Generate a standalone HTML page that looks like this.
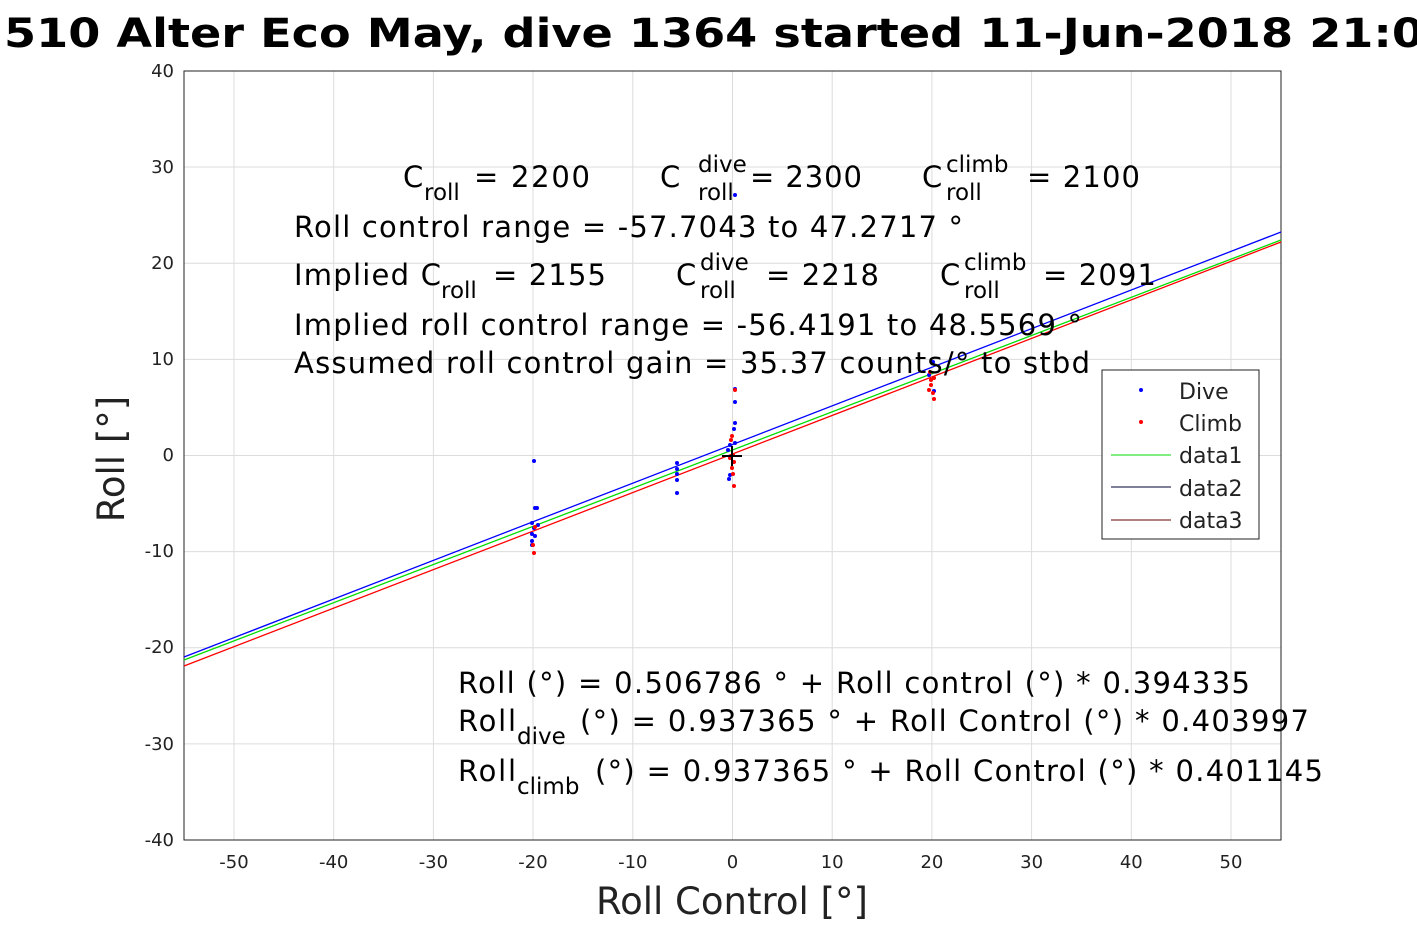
<!DOCTYPE html><html><head><meta charset="utf-8"><style>body{margin:0;background:#fff}svg{display:block}text{font-family:"DejaVu Sans","Liberation Sans",sans-serif}</style></head><body>
<svg width="1417" height="945" viewBox="0 0 1417 945" xmlns="http://www.w3.org/2000/svg">
<rect width="1417" height="945" fill="#fff"/>
<text x="4" y="47" font-size="40" font-weight="bold" fill="#000" textLength="1420" lengthAdjust="spacingAndGlyphs">510 Alter Eco May, dive 1364 started 11-Jun-2018 21:0</text>
<g stroke="#dcdcdc" stroke-width="1">
<line x1="234" y1="71" x2="234" y2="840"/><line x1="333.7" y1="71" x2="333.7" y2="840"/><line x1="433.4" y1="71" x2="433.4" y2="840"/><line x1="533" y1="71" x2="533" y2="840"/><line x1="632.8" y1="71" x2="632.8" y2="840"/><line x1="732.5" y1="71" x2="732.5" y2="840"/><line x1="832.2" y1="71" x2="832.2" y2="840"/><line x1="931.9" y1="71" x2="931.9" y2="840"/><line x1="1031.6" y1="71" x2="1031.6" y2="840"/><line x1="1131.3" y1="71" x2="1131.3" y2="840"/><line x1="1231" y1="71" x2="1231" y2="840"/>
<line x1="184" y1="167" x2="1281" y2="167"/><line x1="184" y1="263.3" x2="1281" y2="263.3"/><line x1="184" y1="359.4" x2="1281" y2="359.4"/><line x1="184" y1="455.5" x2="1281" y2="455.5"/><line x1="184" y1="551.6" x2="1281" y2="551.6"/><line x1="184" y1="647.7" x2="1281" y2="647.7"/><line x1="184" y1="743.9" x2="1281" y2="743.9"/>
</g>
<rect x="184" y="71" width="1097" height="769" fill="none" stroke="#222" stroke-width="1"/>
<g font-size="18" fill="#222" text-anchor="end">
<text x="174" y="77">40</text><text x="174" y="173">30</text><text x="174" y="269">20</text><text x="174" y="365">10</text><text x="174" y="461">0</text><text x="174" y="557">-10</text><text x="174" y="653">-20</text><text x="174" y="750">-30</text><text x="174" y="846">-40</text>
</g>
<g font-size="18" fill="#222" text-anchor="middle">
<text x="234" y="868">-50</text><text x="333.7" y="868">-40</text><text x="433.4" y="868">-30</text><text x="533" y="868">-20</text><text x="632.8" y="868">-10</text><text x="732.5" y="868">0</text><text x="832.2" y="868">10</text><text x="931.9" y="868">20</text><text x="1031.6" y="868">30</text><text x="1131.3" y="868">40</text><text x="1231" y="868">50</text>
</g>
<text x="732" y="914" font-size="37" text-anchor="middle" fill="#222">Roll Control [°]</text>
<text transform="translate(124,459) rotate(-90)" font-size="37" text-anchor="middle" fill="#222">Roll [°]</text>
<line x1="184" y1="657" x2="1281" y2="232" stroke="#0000ff" stroke-width="1.3"/>
<line x1="184" y1="660" x2="1281" y2="240" stroke="#00dd00" stroke-width="1.3"/>
<line x1="184" y1="666" x2="1281" y2="242" stroke="#ff0000" stroke-width="1.3"/>
<g fill="#0000ff">
<circle cx="534" cy="461" r="2"/><circle cx="535" cy="508" r="2"/><circle cx="537" cy="508" r="2"/><circle cx="532" cy="523" r="2"/><circle cx="534" cy="528" r="2"/><circle cx="532" cy="534" r="2"/><circle cx="535" cy="536" r="2"/><circle cx="532" cy="541" r="2"/><circle cx="532" cy="545" r="2"/><circle cx="538" cy="525" r="2"/>
<circle cx="677" cy="463" r="2"/><circle cx="677" cy="469" r="2"/><circle cx="677" cy="474" r="2"/><circle cx="677" cy="480" r="2"/><circle cx="677" cy="493" r="2"/>
<circle cx="735" cy="195" r="2"/><circle cx="735" cy="389" r="2"/><circle cx="735" cy="402" r="2"/><circle cx="735" cy="423" r="2"/><circle cx="734" cy="429" r="2"/><circle cx="730" cy="445" r="2"/><circle cx="735" cy="443" r="2"/><circle cx="728" cy="450" r="2"/><circle cx="733" cy="462" r="2"/><circle cx="729" cy="479" r="2"/><circle cx="730" cy="475" r="2"/>
<circle cx="933" cy="362" r="2"/><circle cx="929" cy="375" r="2"/><circle cx="934" cy="391" r="2"/>
</g>
<g fill="#ff0000">
<circle cx="735" cy="390" r="2"/><circle cx="732" cy="436" r="2"/><circle cx="731" cy="440" r="2"/><circle cx="733" cy="455" r="2"/><circle cx="734" cy="462" r="2"/><circle cx="732" cy="468" r="2"/><circle cx="733" cy="474" r="2"/><circle cx="734" cy="486" r="2"/><circle cx="730" cy="458" r="2"/>
<circle cx="535" cy="527" r="2"/><circle cx="533" cy="545" r="2"/><circle cx="534" cy="553" r="2"/>
<circle cx="930" cy="372" r="2"/><circle cx="934" cy="378" r="2"/><circle cx="931" cy="385" r="2"/><circle cx="929" cy="390" r="2"/><circle cx="933" cy="393" r="2"/><circle cx="934" cy="399" r="2"/><circle cx="931" cy="380" r="2"/>
</g>
<path d="M722 456 H742 M732 446 V466" stroke="#000" stroke-width="2"/>
<g font-size="29" fill="#000">
<text x="403" y="187">C</text><text x="424" y="200" font-size="23">roll</text><text x="474" y="187" textLength="116">= 2200</text>
<text x="660" y="187">C</text><text x="698" y="172" font-size="23">dive</text><text x="698" y="200" font-size="23">roll</text><text x="750" y="187" textLength="112">= 2300</text>
<text x="922" y="187">C</text><text x="946" y="172" font-size="23">climb</text><text x="946" y="200" font-size="23">roll</text><text x="1027" y="187" textLength="113">= 2100</text>
<text x="294" y="237" textLength="669">Roll control range = -57.7043 to 47.2717 °</text>
<text x="294" y="285" textLength="147">Implied C</text><text x="441" y="298" font-size="23">roll</text><text x="493" y="285" textLength="113">= 2155</text>
<text x="676" y="285">C</text><text x="700" y="270" font-size="23">dive</text><text x="700" y="298" font-size="23">roll</text><text x="766" y="285" textLength="113">= 2218</text>
<text x="940" y="285">C</text><text x="964" y="270" font-size="23">climb</text><text x="964" y="298" font-size="23">roll</text><text x="1043" y="285" textLength="113">= 2091</text>
<text x="294" y="335" textLength="788">Implied roll control range = -56.4191 to 48.5569 °</text>
<text x="294" y="373" textLength="796">Assumed roll control gain = 35.37 counts/° to stbd</text>
<text x="458" y="693" textLength="792">Roll (°) = 0.506786 ° + Roll control (°) * 0.394335</text>
<text x="458" y="731" textLength="58">Roll</text><text x="517" y="744" font-size="23">dive</text><text x="580" y="731" textLength="729">(°) = 0.937365 ° + Roll Control (°) * 0.403997</text>
<text x="458" y="781" textLength="58">Roll</text><text x="517" y="794" font-size="23">climb</text><text x="595" y="781" textLength="728">(°) = 0.937365 ° + Roll Control (°) * 0.401145</text>
</g>
<rect x="1102" y="370" width="157" height="169" fill="#fff" stroke="#222" stroke-width="1"/>
<g font-size="22" fill="#222">
<circle cx="1141" cy="390" r="2" fill="#0000ff"/><text x="1179" y="399">Dive</text>
<circle cx="1141" cy="422" r="2" fill="#ff0000"/><text x="1179" y="431">Climb</text>
<line x1="1111" y1="455" x2="1171" y2="455" stroke="#00dd00"/><text x="1179" y="463">data1</text>
<line x1="1111" y1="487" x2="1171" y2="487" stroke="#000033"/><text x="1179" y="496">data2</text>
<line x1="1111" y1="520" x2="1171" y2="520" stroke="#660000"/><text x="1179" y="528">data3</text>
</g>
</svg></body></html>
